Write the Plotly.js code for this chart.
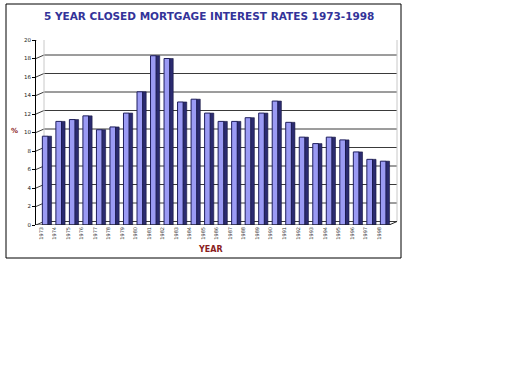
<!DOCTYPE html>
<html>
<head>
<meta charset="utf-8">
<script src="https://cdn.plot.ly/plotly-3.0.1.min.js"></script>
<style>
html,body{margin:0;padding:0;background:#fff;}
#chart{width:512px;height:384px;}
</style>
</head>
<body>
<div id="chart"></div>
<script>
// Data
const years = ["1973","1974","1975","1976","1977","1978","1979","1980","1981","1982","1983","1984","1985","1986","1987","1988","1989","1990","1991","1992","1993","1994","1995","1996","1997","1998"];
const rates = [9.6,11.2,11.4,11.8,10.3,10.6,12.1,14.4,18.3,18.0,13.3,13.6,12.1,11.2,11.2,11.6,12.1,13.4,11.1,9.5,8.8,9.5,9.2,7.9,7.1,6.9];
const yTicks = [0,2,4,6,8,10,12,14,16,18,20];
const titleText = "5 YEAR CLOSED MORTGAGE INTEREST RATES 1973-1998";

// geometry (pixels)
const L = 36, R = 397, T = 40, B = 225;
const W = R - L, H = B - T;
const px = x => (x - L) / W;
const py = y => (B - y) / H;
const depthX = 8, depthY = 3.5;           // 3D back-wall offset
const offV = depthY / (H / 20);            // offset in data units

const shapes = [];
// outer frame
shapes.push({type:'rect', xref:'paper', yref:'paper', x0:px(6), x1:px(401), y0:py(258), y1:py(4),
  line:{color:'#000', width:1}, fillcolor:'rgba(0,0,0,0)', layer:'below'});
// back wall gridlines + connectors
yTicks.forEach(v => {
  const top = v === yTicks[yTicks.length-1];
  shapes.push({type:'line', xref:'paper', yref:'y', x0:px(L+depthX), x1:1, y0:v+offV, y1:v+offV,
    line:{color: top ? '#c8c8c8' : '#3a3a3a', width:1}, layer:'below'});
  shapes.push({type:'line', xref:'paper', yref:'y', x0:0, x1:px(L+depthX), y0:v, y1:v+offV,
    line:{color:'#3a3a3a', width:1}, layer:'below'});
});
// wall edges
shapes.push({type:'line', xref:'paper', yref:'y', x0:px(L+depthX), x1:px(L+depthX), y0:offV, y1:20+offV,
  line:{color:'#c8c8c8', width:1}, layer:'below'});
shapes.push({type:'line', xref:'paper', yref:'y', x0:1, x1:1, y0:offV, y1:20+offV,
  line:{color:'#c8c8c8', width:1}, layer:'below'});
// floor front edge
shapes.push({type:'line', xref:'paper', yref:'y', x0:0, x1:px(R-depthX), y0:0, y1:0,
  line:{color:'#222', width:1}, layer:'above'});
shapes.push({type:'line', xref:'paper', yref:'y', x0:px(R-depthX), x1:1, y0:0, y1:offV,
  line:{color:'#222', width:1}, layer:'above'});

const front = {
  type:'bar', x:years, y:rates, offset:0.1, width:0.42,
  marker:{color:'#9b9bf4', line:{color:'#1e1e5e', width:1}},
  hoverinfo:'skip', showlegend:false
};
const side = {
  type:'bar', x:years, y:rates, offset:0.52, width:0.26,
  marker:{color:'#2b2b70', line:{color:'#15153f', width:0.6}},
  hoverinfo:'skip', showlegend:false
};

const layout = {
  width:512, height:384,
  margin:{l:L, r:512-R, t:T, b:384-B, pad:0},
  paper_bgcolor:'#fff', plot_bgcolor:'rgba(0,0,0,0)',
  barmode:'overlay',
  font:{family:'DejaVu Sans, Verdana, sans-serif', color:'#333'},
  xaxis:{type:'category', range:[-0.37, 26.33], showgrid:false, zeroline:false, showline:false,
    ticks:'', tickangle:-90, tickfont:{size:5, color:'#333'}, fixedrange:true},
  yaxis:{range:[0,20], tickvals:yTicks, ticktext:yTicks.map(String), showgrid:false, zeroline:false,
    showline:true, linecolor:'#000', linewidth:1, ticks:'outside', ticklen:3, tickcolor:'#000',
    tickfont:{size:5.5, color:'#222'}, fixedrange:true},
  shapes:shapes,
  annotations:[
    {text:'<b>'+titleText+'</b>', xref:'paper', yref:'paper', x:px(209), y:py(16), showarrow:false,
      xanchor:'center', yanchor:'middle', font:{size:10.5, color:'#333399', family:'DejaVu Sans, Verdana, sans-serif'}},
    {text:'<b>YEAR</b>', xref:'paper', yref:'paper', x:px(210), y:py(249), showarrow:false,
      xanchor:'center', yanchor:'middle', font:{size:8, color:'#8b1e1e'}},
    {text:'<b>%</b>', xref:'paper', yref:'paper', x:px(14), y:py(131), showarrow:false,
      xanchor:'center', yanchor:'middle', font:{size:7, color:'#8b1e1e'}}
  ]
};

Plotly.newPlot('chart', [front, side], layout, {displayModeBar:false, staticPlot:true});
</script>
</body>
</html>
